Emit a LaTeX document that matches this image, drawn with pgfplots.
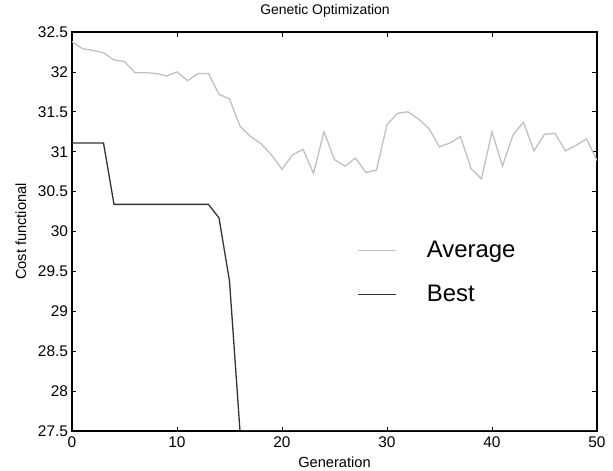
\documentclass[border=0pt]{standalone}
\usepackage{fontspec}
\setmainfont{Liberation Sans}
\usepackage{pgfplots}
\pgfplotsset{compat=1.18}
\definecolor{avgc}{RGB}{192,192,192}
\definecolor{bestc}{RGB}{50,50,50}
\begin{document}
\begin{tikzpicture}
\useasboundingbox (-72bp,-40bp) rectangle (541bp,431bp);
\begin{axis}[
  at={(0,0)}, anchor=south west,
  width=525bp, height=399bp, scale only axis,
  xmin=0, xmax=50, ymin=27.5, ymax=32.5,
  xtick={0,10,20,30,40,50},
  ytick={27.5,28,28.5,29,29.5,30,30.5,31,31.5,32,32.5},
  tick align=inside,
  major tick length=4.5bp,
  tick style={black, line width=0.8bp},
  axis line style={black, line width=1.6bp},
  xticklabels={0,10,20,30,40,50},
  yticklabels={27.5,28,28.5,29,29.5,30,30.5,31,31.5,32,32.5},
  ticklabel style={font=\fontsize{15.5}{18}\selectfont},
  xticklabel style={yshift=-2bp},
  yticklabel style={xshift=-0.5bp},
  title={Genetic Optimization},
  title style={at={(axis description cs:0.482,1)}, anchor=base, yshift=12bp, font=\fontsize{14}{16}\selectfont},
  xlabel={Generation},
  xlabel style={at={(axis description cs:0.5,0)}, anchor=base, yshift=-36.5bp, font=\fontsize{14.7}{17}\selectfont},
  ylabel={Cost functional},
  ylabel style={at={(axis description cs:-0.0876,0.5)}, anchor=base, font=\fontsize{14.7}{17}\selectfont},
  legend style={draw=none, fill=none, at={(axis cs:26.9,29.93)}, anchor=north west,
    font=\fontsize{24}{28}\selectfont, row sep=22bp,
    /tikz/every odd column/.append style={column sep=28bp}},
  legend cell align=left,
  legend image code/.code={\draw[#1] (0bp,0bp) -- (38bp,0bp);},
  clip=true,
]
\addplot[avgc, line width=1.3bp] coordinates {
(0,32.38) (1,32.29) (2,32.27) (3,32.24) (4,32.15) (5,32.13) (6,31.99) (7,31.99) (8,31.98) (9,31.95)
(10,32.00) (11,31.89) (12,31.98) (13,31.98) (14,31.72) (15,31.66) (16,31.32) (17,31.19) (18,31.10) (19,30.96)
(20,30.78) (21,30.96) (22,31.03) (23,30.73) (24,31.25) (25,30.90) (26,30.82) (27,30.92) (28,30.74) (29,30.77)
(30,31.34) (31,31.48) (32,31.50) (33,31.41) (34,31.29) (35,31.06) (36,31.11) (37,31.19) (38,30.79) (39,30.66)
(40,31.25) (41,30.82) (42,31.21) (43,31.37) (44,31.01) (45,31.22) (46,31.23) (47,31.01) (48,31.08) (49,31.16)
(50,30.89)
};
\addlegendentry{Average}
\addplot[bestc, line width=1.3bp] coordinates {
(0,31.11) (1,31.11) (2,31.11) (3,31.11) (4,30.34) (5,30.34) (6,30.34) (7,30.34) (8,30.34) (9,30.34)
(10,30.34) (11,30.34) (12,30.34) (13,30.34) (14,30.17) (15,29.38) (16,27.5) (17,27.5) (18,27.5) (19,27.5)
(20,27.5) (25,27.5) (30,27.5) (35,27.5) (40,27.5) (45,27.5) (50,27.5)
};
\addlegendentry{Best}
\end{axis}
\end{tikzpicture}
\end{document}
